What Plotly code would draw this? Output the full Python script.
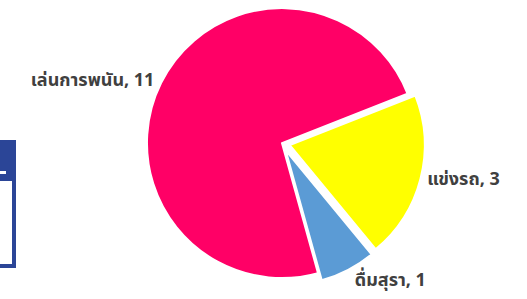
import plotly.graph_objects as go

# data
labels = ["แข่งรถ", "ดื่มสุรา", "เล่นการพนัน"]
values = [3, 1, 11]
colors = ["#FFFF00", "#5B9BD5", "#FF0066"]
pulls = [0.06, 0.06, 0.0]

W, H = 527, 299

def px(x):
    return x / W

def py(y):
    return 1 - y / H

fig = go.Figure(
    go.Pie(
        labels=labels,
        values=values,
        sort=False,
        direction="clockwise",
        rotation=68.5,
        pull=pulls,
        marker=dict(colors=colors, line=dict(color="white", width=2)),
        texttemplate="%{label}, %{value}",
        textposition="outside",
        outsidetextfont=dict(family="Tahoma, 'Noto Sans Thai', 'DejaVu Sans', sans-serif",
                             size=18, color="#404040", weight="bold"),
        showlegend=False,
        automargin=False,
        hoverinfo="label+value",
        domain=dict(x=[0.25, 0.82], y=[0.043, 1.0]),
    )
)

shapes = [
    dict(type="rect", xref="paper", yref="paper", x0=px(-5), x1=px(16), y0=py(268), y1=py(140),
         fillcolor="#2B4597", line=dict(width=0), layer="above"),
    dict(type="rect", xref="paper", yref="paper", x0=px(-5), x1=px(12), y0=py(264), y1=py(181),
         fillcolor="white", line=dict(width=0), layer="above"),
    dict(type="rect", xref="paper", yref="paper", x0=px(-5), x1=px(6), y0=py(174), y1=py(171),
         fillcolor="white", line=dict(width=0), layer="above"),
]

fig.update_layout(
    width=W,
    height=H,
    margin=dict(l=0, r=0, t=0, b=0, autoexpand=False),
    paper_bgcolor="white",
    plot_bgcolor="white",
    shapes=shapes,
)

fig.write_html("out.html", config={"displayModeBar": False},
               post_script="document.body.style.margin='0';")
